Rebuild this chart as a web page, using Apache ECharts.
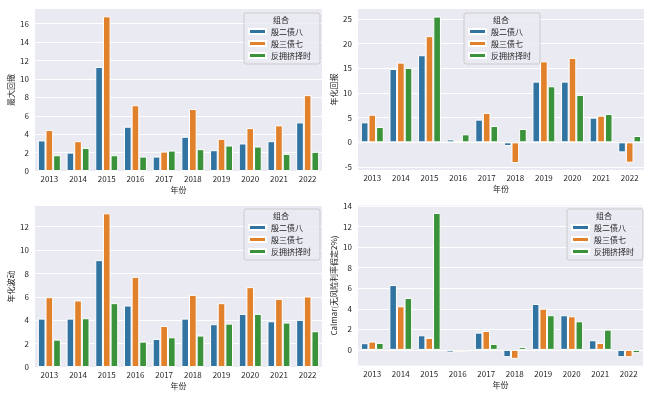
<!DOCTYPE html>
<html>
<head>
<meta charset="utf-8">
<script src="https://cdn.jsdelivr.net/npm/echarts@6/dist/echarts.min.js"></script>
<style>
html, body { margin: 0; padding: 0; background: #fff; }
#chart { width: 653px; height: 399px; }
</style>
</head>
<body>
<div id="chart"></div>
<script>
// 年份 / 组合
const years = ['2013', '2014', '2015', '2016', '2017', '2018', '2019', '2020', '2021', '2022'];
const groups = ['殷二债八', '殷三债七', '反拥挤择时'];

// 最大回撤
const ddA = [3.32, 2.00, 11.3, 4.81, 1.57, 3.72, 2.26, 2.99, 3.24, 5.28];
const ddB = [4.45, 3.24, 16.8, 7.14, 2.11, 6.74, 3.50, 4.66, 4.96, 8.24];
const ddC = [1.71, 2.51, 1.71, 1.57, 2.22, 2.37, 2.77, 2.66, 1.86, 2.08];

// 年化回报
const retA = [4.05, 14.86, 17.64, 0.60, 4.60, -0.74, 12.3, 12.3, 5.00, -2.03];
const retB = [5.60, 16.15, 21.5, 0.34, 5.95, -4.19, 16.4, 17.1, 5.40, -4.12];
const retC = [3.10, 15.07, 25.47, 1.62, 3.30, 2.70, 11.35, 9.60, 5.74, 1.28];

// 年化波动
const volA = [4.14, 4.14, 9.14, 5.26, 2.40, 4.14, 3.66, 4.54, 3.91, 4.03];
const volB = [5.97, 5.69, 13.14, 7.71, 3.51, 6.17, 5.46, 6.83, 5.83, 6.03];
const volC = [2.34, 4.17, 5.46, 2.17, 2.54, 2.69, 3.71, 4.54, 3.80, 3.06];

// Calmar
const calA = [0.65, 6.31, 1.42, -0.26, 1.68, -0.71, 4.47, 3.37, 0.94, -0.71];
const calB = [0.81, 4.24, 1.17, -0.19, 1.84, -0.87, 4.01, 3.27, 0.68, -0.71];
const calC = [0.68, 5.05, 13.33, -0.19, 0.58, 0.29, 3.37, 2.78, 1.97, -0.32];

// y 轴刻度
const ticksDD = [0, 2, 4, 6, 8, 10, 12, 14, 16];
const ticksRet = [-5, 0, 5, 10, 15, 20, 25];
const ticksVol = [0, 2, 4, 6, 8, 10, 12];
const ticksCal = [0, 2, 4, 6, 8, 10, 12, 14];

const colors = ['#3274a1', '#e1812c', '#3a923a'];
const textColor = '#262626';
const font = 'Noto Sans CJK SC';

const panels = [
  { name: '最大回撤', data: [ddA, ddB, ddC], ticks: ticksDD, min: 0, max: 17.6,
    grid: { left: 35, top: 9, width: 287, height: 162 }, legend: [244, 13] },
  { name: '年化回报', data: [retA, retB, retC], ticks: ticksRet, min: -5.6, max: 27.0,
    grid: { left: 358, top: 9, width: 286, height: 161 }, legend: [464, 13] },
  { name: '年化波动', data: [volA, volB, volC], ticks: ticksVol, min: 0, max: 13.77,
    grid: { left: 35, top: 206, width: 287, height: 161 }, legend: [244, 209] },
  { name: 'Calmar(无风险利率假定2%)', data: [calA, calB, calC], ticks: ticksCal, min: -1.52, max: 14.05,
    grid: { left: 358, top: 205.5, width: 285, height: 160 }, legend: [567, 209] }
];

const chart = echarts.init(document.getElementById('chart'));

const option = {
  animation: false,
  backgroundColor: '#fff',
  textStyle: { fontFamily: font },
  grid: panels.map(p => Object.assign({
    show: true, backgroundColor: '#eaeaf2', borderWidth: 0, containLabel: false
  }, p.grid)),
  xAxis: panels.map((p, i) => ({
    type: 'category',
    gridIndex: i,
    data: years,
    name: '年份',
    nameLocation: 'middle',
    nameGap: 15,
    nameTextStyle: { color: textColor, fontSize: 8, fontFamily: font },
    axisLine: { show: false },
    axisTick: { show: false },
    splitLine: { show: false },
    axisLabel: { color: textColor, fontSize: 8, margin: 4, fontFamily: font }
  })),
  yAxis: panels.map((p, i) => ({
    type: 'value',
    gridIndex: i,
    min: p.min,
    max: p.max,
    name: p.name,
    nameLocation: 'middle',
    nameRotate: 90,
    nameGap: 20,
    nameTextStyle: { color: textColor, fontSize: 8, fontFamily: font },
    axisLine: { show: false },
    axisTick: { show: false, customValues: p.ticks },
    splitLine: { show: true, lineStyle: { color: '#fff', width: 1 } },
    axisLabel: { color: textColor, fontSize: 8, margin: 6, fontFamily: font, customValues: p.ticks }
  })),
  legend: panels.map(p => ({
    data: groups,
    orient: 'vertical',
    left: p.legend[0],
    top: p.legend[1],
    padding: [13, 9, 3, 4],
    itemGap: 1,
    itemWidth: 17,
    itemHeight: 5,
    itemTextGap: 6,
    icon: 'rect',
    backgroundColor: 'rgba(234,234,242,0.8)',
    borderColor: '#cccccc',
    borderWidth: 1,
    borderRadius: 2,
    textStyle: { color: textColor, fontSize: 8, lineHeight: 11, fontFamily: font }
  })),
  graphic: panels.map(p => ({
    type: 'text',
    x: p.legend[0] + 37,
    y: p.legend[1] + 7,
    z: 100,
    style: {
      text: '组合', fill: textColor, fontSize: 8, fontFamily: font,
      textAlign: 'center', textVerticalAlign: 'middle'
    }
  })),
  series: []
};

panels.forEach((p, i) => {
  p.data.forEach((vals, k) => {
    option.series.push({
      name: groups[k],
      type: 'bar',
      xAxisIndex: i,
      yAxisIndex: i,
      data: vals,
      barGap: '0%',
      barCategoryGap: '20%',
      itemStyle: { color: colors[k], borderColor: '#fff', borderWidth: 1 }
    });
  });
});

chart.setOption(option);
</script>
</body>
</html>
